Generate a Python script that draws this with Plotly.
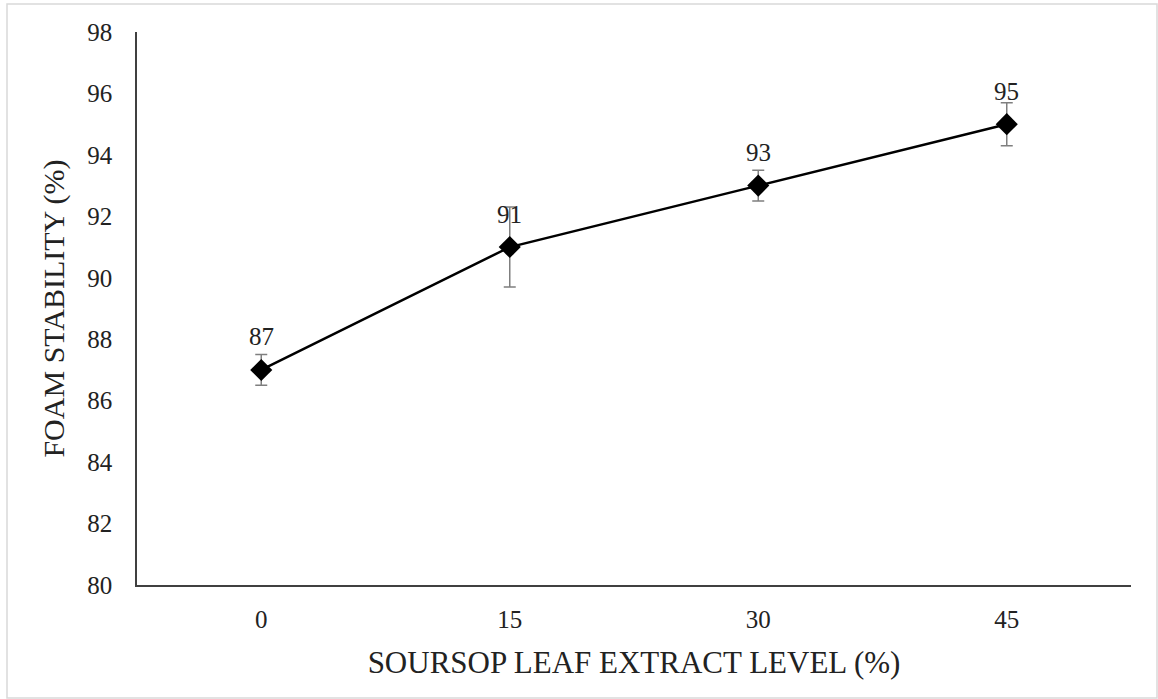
import plotly.graph_objects as go

categories = ["0", "15", "30", "45"]
foam_stability = [87, 91, 93, 95]
error_values = [0.5, 1.3, 0.5, 0.7]
y_ticks = [80, 82, 84, 86, 88, 90, 92, 94, 96, 98]

FONT = "Liberation Serif"

fig = go.Figure()
fig.add_trace(go.Scatter(
    x=categories, y=foam_stability,
    mode="lines+markers",
    line=dict(color="black", width=2.5),
    marker=dict(symbol="diamond", size=17, color="black"),
    error_y=dict(type="data", array=error_values, visible=True,
                 color="#7f7f7f", thickness=1.5, width=6),
    showlegend=False,
))

for i, v in enumerate(foam_stability):
    fig.add_annotation(x=i, y=v, text=str(v), showarrow=False,
                       yshift=33, font=dict(family=FONT, size=25, color="#222"))

W, H = 1158, 699
ml, mr, mt, mb = 137, 27, 32, 114
pw, ph = W - ml - mr, H - mt - mb
def px_x(p): return (p - ml) / pw
def px_y(p): return (H - mb - p) / ph

fig.add_shape(type="rect", xref="paper", yref="paper",
              x0=px_x(7), x1=px_x(1157), y0=px_y(698), y1=px_y(4),
              line=dict(color="#d9d9d9", width=1.5), layer="below")

fig.update_layout(
    width=W, height=H,
    margin=dict(l=ml, r=mr, t=mt, b=mb),
    paper_bgcolor="white", plot_bgcolor="white",
    font=dict(family=FONT, color="#222"),
    xaxis=dict(
        type="category", range=[-0.5, 3.5],
        showline=True, linecolor="#404040", linewidth=1.5,
        showgrid=False, ticks="", zeroline=False,
        tickfont=dict(family=FONT, size=25),
        ticklabelstandoff=11,
        title=dict(text="SOURSOP LEAF EXTRACT LEVEL (%)",
                   font=dict(family=FONT, size=31), standoff=20),
    ),
    yaxis=dict(
        range=[80, 98], tickvals=y_ticks,
        showline=True, linecolor="#404040", linewidth=1.5,
        showgrid=False, ticks="", zeroline=False,
        tickfont=dict(family=FONT, size=25),
        ticklabelstandoff=18,
        title=dict(text="FOAM STABILITY (%)",
                   font=dict(family=FONT, size=30), standoff=14),
    ),
)

fig.write_html("out.html")
